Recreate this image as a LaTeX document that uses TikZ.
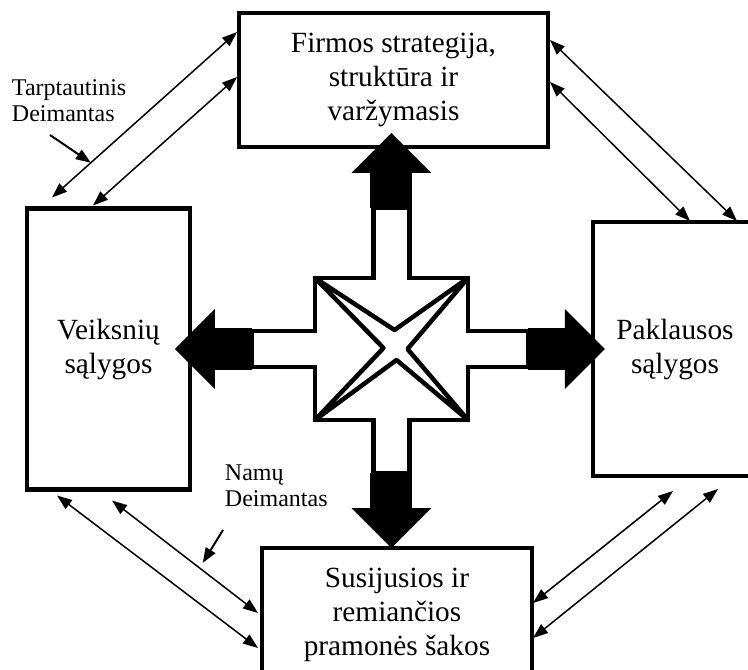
\documentclass[tikz,border=0pt]{standalone}
\usepackage{fontspec}
\setmainfont{Liberation Serif}
\usetikzlibrary{arrows.meta,positioning,calc}

\begin{document}
\begin{tikzpicture}[
  x=1pt,y=1pt,
  node distance=125pt,
  box/.style={rectangle,draw,line width=4.5pt,fill=white,align=center,inner sep=0pt,outer sep=0pt,font=\fontsize{29.3}{34}\selectfont},
  tag/.style={align=left,inner sep=0pt,outer sep=0pt,font=\fontsize{24}{26}\selectfont},
  twoway/.style={{Triangle[length=15pt,width=11pt]}-{Triangle[length=15pt,width=11pt]},line width=1.5pt},
  pointer/.style={-{Triangle[length=15pt,width=11pt]},line width=2pt},
  blockarrow/.style={line width=42pt,-{Triangle[length=40pt,width=80pt,line width=0pt]}}
]
\useasboundingbox (-391.5,-321) rectangle (356.5,349);
\clip (-391.5,-321) rectangle (356.5,349);

% Centre
\node[minimum width=153pt,minimum height=142pt,inner sep=0pt,outer sep=0pt] (cross) at (0,0) {};

% Determinants
\node[box,minimum width=309pt,minimum height=134pt,above=131pt of cross,xshift=2pt] (firm) {Firmos strategija,\\struktūra ir\\varžymasis};
\node[box,minimum width=163pt,minimum height=281pt,left=of cross] (factor) {Veiksnių\\sąlygos};
\node[box,minimum width=164pt,minimum height=254pt,right=of cross] (demand) {Paklausos\\sąlygos};
\node[box,minimum width=270pt,minimum height=134pt,below=128pt of cross,xshift=5.5pt] (related) {Susijusios ir\\remiančios\\pramonės šakos};

% Cross with arms
\draw[line width=4.5pt,fill=white] (-76.5,71) -- (-18,71) -- (-18,141) -- (18,141) -- (18,71) -- (76.5,71)
  -- (76.5,18) -- (136.5,18) -- (136.5,-18) -- (76.5,-18) -- (76.5,-71) -- (18,-71) -- (18,-124)
  -- (-18,-124) -- (-18,-71) -- (-76.5,-71) -- (-76.5,-18) -- (-139.5,-18) -- (-139.5,18) -- (-76.5,18) -- cycle;
\draw[line width=4.5pt,line join=round] (cross.north west) -- (3,19) -- (cross.north east) -- (16,0)
  -- (cross.south east) -- (5,-11) -- (cross.south west) -- (-8,1) -- cycle;

% Block arrows
\draw[blockarrow] ([yshift=70pt]cross.north) -- ($(cross |- firm.south)+(0,14)$);
\draw[blockarrow] ([xshift=-63pt]cross.west) -- ($(cross -| factor.east)+(-15,0)$);
\draw[blockarrow] ([xshift=60pt]cross.east) -- ($(cross -| demand.west)+(12,0)$);
\draw[blockarrow] ([yshift=-53pt]cross.south) -- (cross |- related.north);

% Diamond links
\draw[twoway] ([xshift=25pt,yshift=11pt]factor.north west) -- ([xshift=-2pt,yshift=48pt]firm.west) coordinate[pos=0.21] (intltip);
\draw[twoway] ([xshift=66pt,yshift=3pt]factor.north west) -- ([xshift=-2pt,yshift=3pt]firm.west);
\draw[twoway] ([xshift=2pt,yshift=40pt]firm.east) -- ([xshift=144pt,yshift=1pt]demand.north west);
\draw[twoway] ([xshift=2pt,yshift=-2pt]firm.east) -- ([xshift=97pt,yshift=1pt]demand.north west);
\draw[twoway] ([xshift=1pt,yshift=12pt]related.east) -- ([xshift=80pt,yshift=-15pt]demand.south west);
\draw[twoway] ([xshift=1pt,yshift=-23pt]related.east) -- ([xshift=125pt,yshift=-13pt]demand.south west);
\draw[twoway] ([xshift=30pt,yshift=-6pt]factor.south west) -- ([xshift=-4pt,yshift=-33pt]related.west);
\draw[twoway] ([xshift=85pt,yshift=-11pt]factor.south west) -- ([xshift=-4pt,yshift=2pt]related.west) coordinate[pos=0.6] (hometip);

% Labels
\node[tag,anchor=south west] (intl) at (-379.5,227) {Tarptautinis\\Deimantas};
\node[tag,anchor=south west] (home) at (-166.5,-158) {Namų\\Deimantas};
\draw[pointer] ([xshift=38pt,yshift=-13pt]intl.south west) -- (intltip);
\draw[pointer,shorten >=6pt] ([xshift=-2pt,yshift=-23pt]home.south west) -- (hometip);

\end{tikzpicture}
\end{document}
